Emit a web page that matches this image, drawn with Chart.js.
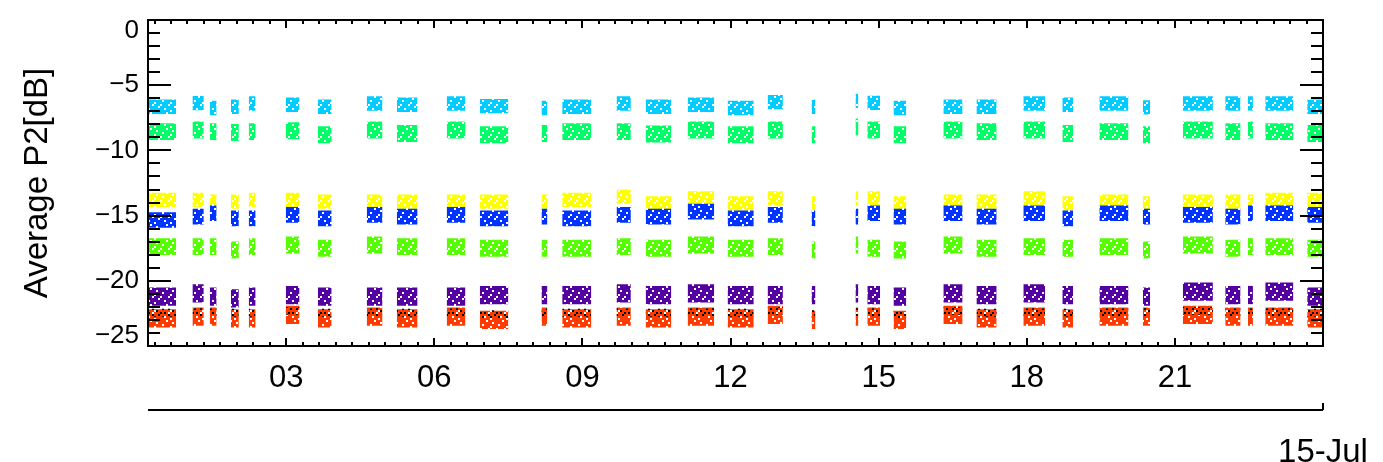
<!DOCTYPE html>
<html>
<head>
<meta charset="utf-8">
<script src="https://cdn.jsdelivr.net/npm/chart.js@4.4.1/dist/chart.umd.min.js"></script>
<style>
  html, body { margin: 0; padding: 0; background: #fff; }
  canvas { display: block; }
</style>
</head>
<body>
<canvas id="grafico" width="1383" height="462"></canvas>
<script>
// horas (15-Jul) em que cada bloco de medidas começa / termina
const clusterStart = [0.2, 1.1, 1.45, 1.88, 2.24, 2.99, 3.64, 4.63, 5.24, 6.25, 6.92,
  8.17, 8.59, 9.69, 10.28, 11.13, 11.94, 12.75, 13.64, 14.53, 14.77, 15.3,
  16.31, 16.98, 17.93, 18.72, 19.47, 20.35, 21.16, 22.02, 22.48, 22.83, 23.68];
const clusterEnd = [0.77, 1.33, 1.59, 2.04, 2.38, 3.27, 3.92, 4.95, 5.66, 6.63, 7.5,
  8.29, 9.18, 9.98, 10.8, 11.67, 12.47, 13.06, 13.72, 14.59, 15.03, 15.56,
  16.7, 17.39, 18.37, 18.94, 20.06, 20.5, 21.77, 22.33, 22.58, 23.4, 24.0];

// nível médio (dB) de cada série em cada bloco
const cyanLevel = [-6.65, -6.37, -6.75, -6.65, -6.4, -6.5, -6.65, -6.4, -6.5, -6.4, -6.6,
  -6.75, -6.65, -6.4, -6.65, -6.5, -6.75, -6.3, -6.65, -6.2, -6.35, -6.75,
  -6.65, -6.65, -6.4, -6.5, -6.4, -6.7, -6.4, -6.4, -6.4, -6.4, -6.65];
const greenLevel = [-8.56, -8.44, -8.56, -8.63, -8.56, -8.5, -8.8, -8.44, -8.7, -8.44, -8.8,
  -8.7, -8.56, -8.56, -8.75, -8.44, -8.8, -8.44, -8.8, -8.2, -8.44, -8.8,
  -8.44, -8.56, -8.44, -8.7, -8.56, -8.8, -8.44, -8.56, -8.44, -8.56, -8.7];
const yellowLevel = [-13.8, -13.8, -13.93, -13.93, -13.8, -13.8, -13.93, -13.93, -13.93, -13.93, -13.93,
  -13.93, -13.8, -13.55, -14.06, -13.68, -14.06, -13.68, -14.06, -13.68, -13.68, -14.06,
  -13.93, -13.93, -13.68, -14.06, -13.93, -14.06, -13.93, -13.93, -13.93, -13.8, -13.8];
const blueLevel = [-15.34, -15.08, -14.82, -15.21, -15.21, -14.95, -15.21, -14.95, -15.08, -14.95, -15.21,
  -15.08, -15.21, -14.95, -15.08, -14.7, -15.21, -14.95, -15.21, -15.08, -14.82, -15.08,
  -14.82, -15.08, -14.82, -15.21, -14.82, -15.08, -14.95, -15.08, -14.82, -14.82, -14.95];
const limeLevel = [-17.38, -17.38, -17.38, -17.64, -17.38, -17.25, -17.51, -17.25, -17.38, -17.38, -17.51,
  -17.51, -17.51, -17.38, -17.51, -17.25, -17.51, -17.38, -17.64, -17.25, -17.51, -17.64,
  -17.25, -17.51, -17.38, -17.51, -17.38, -17.64, -17.25, -17.51, -17.38, -17.38, -17.51];
const purpleLevel = [-21.22, -20.96, -21.22, -21.34, -21.22, -21.09, -21.22, -21.22, -21.22, -21.22, -21.09,
  -21.09, -21.09, -20.96, -21.09, -20.96, -21.09, -21.09, -21.09, -20.96, -21.09, -21.22,
  -20.96, -21.09, -20.96, -21.09, -21.09, -21.22, -20.83, -21.09, -21.09, -20.83, -21.22];
const blackLevel = [-22.45, -22.4, -22.4, -22.45, -22.45, -22.3, -22.45, -22.4, -22.45, -22.4, -22.55,
  -22.4, -22.45, -22.4, -22.45, -22.4, -22.45, -22.3, -22.55, -22.4, -22.4, -22.55,
  -22.3, -22.45, -22.4, -22.45, -22.4, -22.4, -22.3, -22.4, -22.4, -22.4, -22.45];
const redLevel = [-22.88, -22.75, -22.75, -22.88, -22.88, -22.62, -22.88, -22.75, -22.88, -22.75, -23.0,
  -22.75, -22.88, -22.75, -22.88, -22.75, -22.88, -22.62, -23.0, -22.75, -22.75, -23.0,
  -22.62, -22.88, -22.75, -22.88, -22.75, -22.75, -22.62, -22.75, -22.75, -22.75, -22.88];

// meia largura (dB) da nuvem de pontos: ciano, verde, amarelo, azul, lima, roxo, preto, vermelho
const seriesSpread = [0.55, 0.65, 0.55, 0.6, 0.65, 0.7, 0.3, 0.7];

const yTickLabels = ['0', '\u22125', '\u221210', '\u221215', '\u221220', '\u221225'];
const xTickHours = [3, 6, 9, 12, 15, 18, 21];
const dateLabel = '15-Jul';

// padrões de pontinhos para imitar a nuvem de pontos (cada célula = 2 px)
const padraoDenso = [
  "11101111",
  "11111101",
  "10111111",
  "11111011",
  "01110111",
  "11111110",
  "11011111",
  "11111011"
];
const padraoEsparso = [
  "10010000",
  "00000101",
  "01001000",
  "00000010",
  "10100000",
  "00001001",
  "01000100",
  "00010000"
];

function criarPadrao(cor, mapa) {
  const c = document.createElement("canvas");
  c.width = mapa[0].length * 2;
  c.height = mapa.length * 2;
  const g = c.getContext("2d");
  g.fillStyle = cor;
  mapa.forEach((linha, j) => {
    for (let i = 0; i < linha.length; i++) {
      if (linha[i] === "1") g.fillRect(i * 2, j * 2, 2, 2);
    }
  });
  return document.getElementById("grafico").getContext("2d").createPattern(c, "repeat");
}

// ordem de desenho: do fundo para a frente
const series = [
  { level: cyanLevel, cor: "#00CCFF", mapa: padraoDenso, spreadIdx: 0 },
  { level: greenLevel, cor: "#00FF66", mapa: padraoDenso, spreadIdx: 1 },
  { level: yellowLevel, cor: "#FFFF00", mapa: padraoDenso, spreadIdx: 2 },
  { level: blueLevel, cor: "#0033FF", mapa: padraoDenso, spreadIdx: 3 },
  { level: limeLevel, cor: "#55FF00", mapa: padraoDenso, spreadIdx: 4 },
  { level: purpleLevel, cor: "#5500A0", mapa: padraoDenso, spreadIdx: 5 },
  { level: redLevel, cor: "#FF3C00", mapa: padraoDenso, spreadIdx: 7 },
  { level: blackLevel, cor: "#000000", mapa: padraoEsparso, spreadIdx: 6 }
];

const datasets = [];
series.forEach((s, k) => {
  const meia = seriesSpread[s.spreadIdx];
  const topo = [], base = [];
  clusterStart.forEach((inicio, i) => {
    const fim = clusterEnd[i];
    topo.push({ x: inicio, y: s.level[i] + meia }, { x: fim, y: s.level[i] + meia }, { x: fim, y: null });
    base.push({ x: inicio, y: s.level[i] - meia }, { x: fim, y: s.level[i] - meia }, { x: fim, y: null });
  });
  const ordem = 100 - k;
  datasets.push({
    data: topo, order: ordem, borderWidth: 0, pointRadius: 0, fill: false, spanGaps: false
  });
  datasets.push({
    data: base, order: ordem, borderWidth: 0, pointRadius: 0, spanGaps: false,
    fill: "-1", backgroundColor: criarPadrao(s.cor, s.mapa)
  });
});

// moldura e marcas de escala para dentro, estilo IDL
const molduraIDL = {
  id: "molduraIDL",
  afterDatasetsDraw(chart) {
    const { ctx, chartArea: a, scales } = chart;
    const sx = scales.x, sy = scales.y, sd = scales.data;
    ctx.save();
    ctx.strokeStyle = "#000";
    ctx.lineWidth = 2;
    ctx.strokeRect(a.left, a.top, a.right - a.left, a.bottom - a.top);
    ctx.beginPath();
    for (let v = Math.ceil(sy.min); v <= sy.max; v++) {
      const py = Math.round(sy.getPixelForValue(v));
      const len = v % 5 === 0 ? 23 : 12;
      ctx.moveTo(a.left, py); ctx.lineTo(a.left + len, py);
      ctx.moveTo(a.right, py); ctx.lineTo(a.right - len, py);
    }
    for (let n = Math.ceil(sx.min * 3); n <= sx.max * 3; n++) {
      const px = Math.round(sx.getPixelForValue(n / 3));
      const len = n % 9 === 0 ? 8 : 4;
      ctx.moveTo(px, a.bottom); ctx.lineTo(px, a.bottom - len);
      ctx.moveTo(px, a.top); ctx.lineTo(px, a.top + len);
    }
    ctx.stroke();
    // segundo eixo (data)
    ctx.beginPath();
    ctx.moveTo(a.left, sd.top); ctx.lineTo(a.right, sd.top);
    const pd = sd.getPixelForValue(sd.max);
    ctx.moveTo(pd, sd.top); ctx.lineTo(pd, sd.top - 7);
    ctx.stroke();
    ctx.restore();
  }
};

function semPaddingX(s, h) {
  s.height = h;
  s.paddingLeft = 0;
  s.paddingRight = 0;
}

new Chart(document.getElementById("grafico"), {
  type: "line",
  data: { datasets },
  options: {
    responsive: false,
    animation: false,
    events: [],
    layout: { padding: { top: 20, right: 60, left: 0, bottom: 0 } },
    plugins: { legend: { display: false }, tooltip: { enabled: false } },
    scales: {
      x: {
        type: "linear", position: "bottom", weight: 0,
        min: 0.2, max: 24,
        grid: { display: false, drawTicks: false },
        border: { display: false },
        afterBuildTicks: s => { s.ticks = xTickHours.map(v => ({ value: v })); },
        afterFit: s => semPaddingX(s, 64),
        ticks: {
          padding: 14, color: "#000", maxRotation: 0, autoSkip: false,
          font: { family: "Liberation Sans", size: 31 },
          callback: v => String(v).padStart(2, "0")
        }
      },
      data: {
        type: "linear", position: "bottom", weight: 1,
        min: 0.2, max: 24,
        grid: { display: false, drawTicks: false },
        border: { display: false },
        afterBuildTicks: s => { s.ticks = [{ value: 24 }]; },
        afterFit: s => semPaddingX(s, 52),
        ticks: {
          padding: 23, color: "#000", maxRotation: 0, autoSkip: false,
          font: { family: "Liberation Sans", size: 33 },
          callback: () => dateLabel
        }
      },
      y: {
        type: "linear", position: "left",
        min: -25, max: 0,
        grid: { display: false, drawTicks: false },
        border: { display: false },
        afterBuildTicks: s => { s.ticks = yTickLabels.map((t, i) => ({ value: -5 * i })); },
        afterFit: s => {
          s.width = 148;
          s.paddingTop = 0;
          s.paddingBottom = 0;
        },
        ticks: {
          padding: 9, color: "#000",
          font: { family: "Liberation Sans", size: 26, lineHeight: 0.8 },
          // rótulos das pontas empurrados para dentro, como no IDL
          callback: (v, i) => i === 0 ? ['', yTickLabels[i]]
            : i === yTickLabels.length - 1 ? [yTickLabels[i], ''] : yTickLabels[i]
        },
        title: {
          display: true, text: "Average P2[dB]", color: "#000",
          font: { family: "Liberation Sans", size: 33 },
          padding: { top: 18, bottom: 0 }
        }
      }
    }
  },
  plugins: [molduraIDL]
});
</script>
</body>
</html>
